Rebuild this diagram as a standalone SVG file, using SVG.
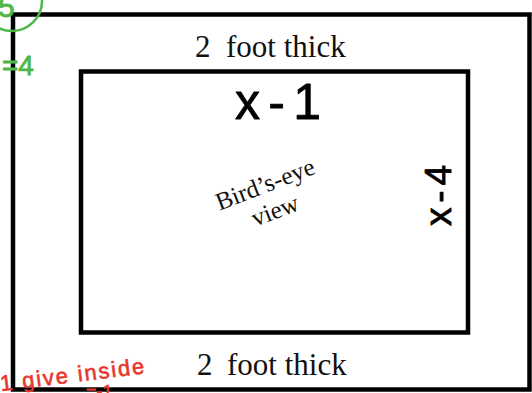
<svg xmlns="http://www.w3.org/2000/svg" width="532" height="393" viewBox="0 0 532 393">
<style>
.box{fill:none;stroke:#000;stroke-width:4.5}
.serif{font-family:"Liberation Serif","Times New Roman",serif;fill:#111}
.hand{font-family:"Liberation Sans",Arial,sans-serif;fill:#000;stroke:#000;stroke-width:0.8;stroke-linejoin:round}
.green{font-family:"Liberation Sans",Arial,sans-serif;fill:#4db848;stroke:#4db848;stroke-width:0.8}
.red{font-family:"Liberation Sans",Arial,sans-serif;fill:#e8362d;stroke:#e8362d;stroke-width:0.6}
</style>
<rect width="532" height="393" fill="#fff"/>
<g id="outer-box">
<rect class="box" x="13" y="14.5" width="516.5" height="375"/>
</g>
<g id="inner-box">
<rect class="box" x="81" y="71.5" width="387" height="261"/>
</g>
<g id="top-label">
<text class="serif" y="57" font-size="31"><tspan x="195">2</tspan> <tspan x="226">foot thick</tspan></text>
</g>
<g id="bottom-label">
<text class="serif" y="375" font-size="31"><tspan x="197">2</tspan> <tspan x="227">foot thick</tspan></text>
</g>
<g id="x-1-label">
<text class="hand" x="235" y="119" font-size="50" textLength="86" lengthAdjust="spacing">x-1</text>
</g>
<g id="x-4-label">
<text class="hand" transform="translate(451,226) rotate(-90)" x="0" y="0" font-size="37" textLength="61" lengthAdjust="spacing">x-4</text>
</g>
<g id="center-label">
<g transform="translate(268,192) rotate(-21)">
<text class="serif" x="0" y="0" font-size="25" text-anchor="middle">Bird’s-eye</text>
<text class="serif" x="0" y="28" font-size="25" text-anchor="middle">view</text>
</g>
</g>
<g id="green-notes">
<circle cx="12" cy="1" r="30" fill="none" stroke="#4db848" stroke-width="2.5"/>
<text class="green" x="-2" y="17" font-size="30">5</text>
<text class="green" x="2" y="75" font-size="28">=4</text>
</g>
<g id="red-notes">
<text class="red" transform="translate(1,391) rotate(-7)" font-size="22" textLength="145" lengthAdjust="spacing">1 give inside</text>
<text class="red" x="86" y="398" font-size="18">=-1</text>
</g>
</svg>
